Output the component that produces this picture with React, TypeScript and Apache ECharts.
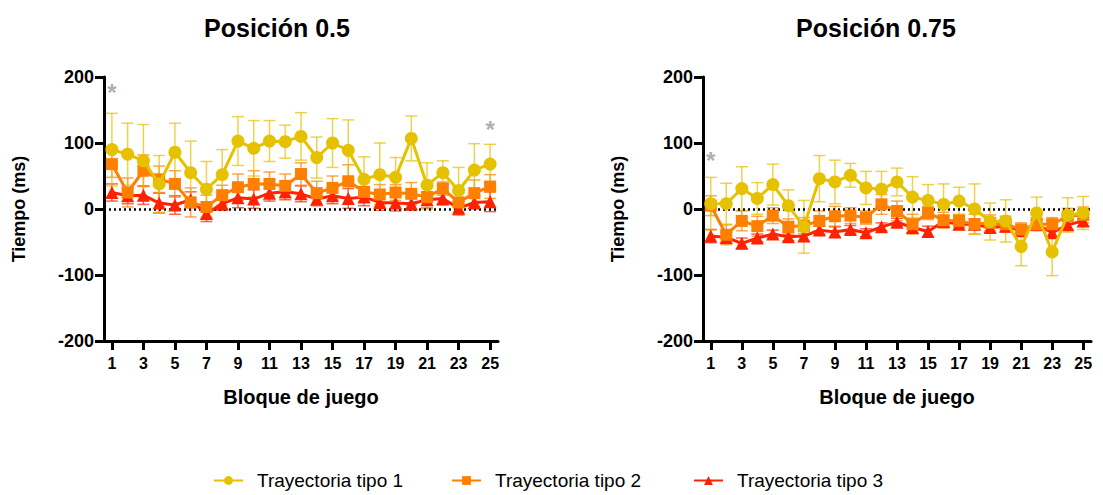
import React, { useEffect, useRef } from "react";
import * as echarts from "echarts";

const blocks = ["1","2","3","4","5","6","7","8","9","10","11","12","13","14","15","16","17","18","19","20","21","22","23","24","25"];
const seriesNames = ["Trayectoria tipo 1", "Trayectoria tipo 2", "Trayectoria tipo 3"];
const chartTitles = ["Posición 0.5", "Posición 0.75"];
const yTicks = { min: -200, max: 200, interval: 100 };

// Posición 0.5
const left1 = [90, 83, 73, 38, 86, 55, 30, 52, 103, 92, 103, 102, 110, 78, 100, 89, 45, 52, 48, 107, 36, 55, 28, 59, 68];
const left1Err = [55, 47, 55, 43, 44, 48, 42, 38, 37, 42, 31, 25, 36, 31, 37, 46, 34, 48, 30, 34, 34, 18, 35, 40, 30];
const left2 = [68, 25, 58, 45, 38, 10, 3, 21, 33, 38, 38, 35, 53, 24, 32, 42, 26, 22, 25, 23, 18, 31, 10, 24, 34];
const left2Err = [20, 22, 24, 20, 20, 22, 18, 15, 20, 20, 18, 18, 17, 18, 18, 25, 15, 15, 12, 17, 18, 10, 15, 20, 18];
const left3 = [25, 20, 21, 9, 6, 14, -7, 8, 17, 15, 24, 26, 23, 15, 20, 16, 18, 10, 9, 8, 14, 16, 1, 10, 11];
const left3Err = [13, 12, 14, 15, 14, 12, 12, 10, 15, 14, 12, 12, 12, 10, 12, 15, 13, 12, 12, 10, 12, 10, 10, 10, 15];
const leftStars = [[0, 177], [24, 121]];

// Posición 0.75
const right1 = [8, 8, 31, 16, 37, 5, -27, 46, 41, 51, 32, 30, 41, 18, 13, 7, 12, 0, -19, -18, -57, -6, -65, -9, -6];
const right1Err = [40, 31, 33, 24, 31, 24, 40, 35, 33, 18, 25, 27, 21, 31, 24, 31, 21, 38, 28, 32, 29, 24, 36, 26, 25];
const right2 = [5, -39, -18, -26, -10, -27, -25, -18, -11, -10, -13, 7, -3, -23, -6, -17, -18, -23, -21, -23, -31, -23, -23, -11, -9];
const right2Err = [15, 15, 15, 15, 12, 12, 12, 15, 15, 12, 10, 15, 15, 15, 10, 12, 10, 15, 12, 12, 10, 10, 10, 12, 12];
const right3 = [-41, -43, -52, -44, -38, -42, -41, -32, -35, -31, -36, -27, -20, -28, -34, -19, -23, -23, -28, -26, -33, -23, -36, -24, -18];
const right3Err = [10, 8, 8, 6, 6, 6, 8, 6, 8, 6, 6, 6, 6, 8, 8, 8, 8, 8, 8, 8, 6, 6, 6, 8, 8];
const rightStars = [[0, 73]];

const colors = ["#E5C100", "#FF7F00", "#FF2200"];
const symbols = ["circle", "rect", "triangle"];
const symbolSizes = [13, 12, 13];
const FONT = "'Liberation Sans', Arial, Helvetica, sans-serif";

function errorSeries(idx: number, name: string, vals: number[], errs: number[], color: string) {
  return {
    type: "custom",
    name: name + " err",
    xAxisIndex: idx,
    yAxisIndex: idx,
    z: 1,
    silent: true,
    data: vals.map((v, i) => [i, v, errs[i]]),
    encode: { x: 0, y: 1 },
    renderItem: (params: any, api: any) => {
      const x = api.value(0);
      const m = api.value(1);
      const e = api.value(2);
      const top = api.coord([x, m + e]);
      const bot = api.coord([x, m - e]);
      const hw = 6;
      const style = { stroke: color, lineWidth: 1.5, opacity: 0.7 };
      return {
        type: "group",
        children: [
          { type: "line", shape: { x1: top[0], y1: top[1], x2: bot[0], y2: bot[1] }, style },
          { type: "line", shape: { x1: top[0] - hw, y1: top[1], x2: top[0] + hw, y2: top[1] }, style },
          { type: "line", shape: { x1: bot[0] - hw, y1: bot[1], x2: bot[0] + hw, y2: bot[1] }, style },
        ],
      };
    },
  };
}

function lineSeries(idx: number, k: number, vals: number[], withZero: boolean) {
  const s: any = {
    type: "line",
    name: seriesNames[k],
    xAxisIndex: idx,
    yAxisIndex: idx,
    data: vals,
    symbol: symbols[k],
    symbolSize: symbolSizes[k],
    showSymbol: true,
    showAllSymbol: true,
    z: 5 + (2 - k),
    itemStyle: { color: colors[k] },
    lineStyle: { color: colors[k], width: 3 },
  };
  if (withZero) {
    s.markLine = {
      silent: true,
      symbol: "none",
      label: { show: false },
      lineStyle: { color: "#000", type: [2, 3], width: 2.5 },
      data: [{ yAxis: 0 }],
    };
  }
  return s;
}

function starSeries(idx: number, pts: number[][]) {
  return {
    type: "scatter",
    name: "stars" + idx,
    xAxisIndex: idx,
    yAxisIndex: idx,
    silent: true,
    symbolSize: 1,
    itemStyle: { color: "rgba(0,0,0,0)" },
    data: pts,
    label: {
      show: true,
      position: "inside",
      formatter: "*",
      color: "#999",
      fontSize: 24,
      fontWeight: "bold",
      fontFamily: FONT,
    },
  };
}

const gridLefts = [96, 695];
const legendLefts = [200, 438, 680];

export default function App() {
  const ref = useRef<HTMLDivElement>(null);
  useEffect(() => {
    if (!ref.current) return;
    const chart = echarts.init(ref.current, null, { renderer: "svg" });
    const xAxes = [0, 1].map((i) => ({
      type: "category",
      gridIndex: i,
      data: blocks,
      boundaryGap: true,
      name: "Bloque de juego",
      nameLocation: "middle",
      nameGap: 46,
      nameTextStyle: { fontSize: 20, fontWeight: "bold", color: "#000", fontFamily: FONT },
      axisLine: { onZero: false, lineStyle: { color: "#000", width: 3 } },
      axisTick: { show: true, alignWithLabel: true, interval: 1, length: 9, lineStyle: { color: "#000", width: 3 } },
      axisLabel: { interval: 1, margin: 14, fontSize: 16, fontWeight: "bold", color: "#000", fontFamily: FONT },
      splitLine: { show: false },
    }));
    const yAxes = [0, 1].map((i) => ({
      type: "value",
      gridIndex: i,
      min: yTicks.min,
      max: yTicks.max,
      interval: yTicks.interval,
      name: "Tiempo (ms)",
      nameLocation: "middle",
      nameGap: 76,
      nameRotate: 90,
      nameTextStyle: { fontSize: 18, fontWeight: "bold", color: "#000", fontFamily: FONT },
      axisLine: { show: true, lineStyle: { color: "#000", width: 3 } },
      axisTick: { show: true, length: 9, lineStyle: { color: "#000", width: 3 } },
      axisLabel: { margin: 10, fontSize: 18, fontWeight: "bold", color: "#000", fontFamily: FONT },
      splitLine: { show: false },
    }));
    const series: any[] = [
      errorSeries(0, seriesNames[2], left3, left3Err, colors[2]),
      errorSeries(0, seriesNames[1], left2, left2Err, colors[1]),
      errorSeries(0, seriesNames[0], left1, left1Err, colors[0]),
      lineSeries(0, 2, left3, true),
      lineSeries(0, 1, left2, false),
      lineSeries(0, 0, left1, false),
      starSeries(0, leftStars),
      errorSeries(1, seriesNames[2], right3, right3Err, colors[2]),
      errorSeries(1, seriesNames[1], right2, right2Err, colors[1]),
      errorSeries(1, seriesNames[0], right1, right1Err, colors[0]),
      lineSeries(1, 2, right3, true),
      lineSeries(1, 1, right2, false),
      lineSeries(1, 0, right1, false),
      starSeries(1, rightStars),
    ];
    chart.setOption({
      animation: false,
      backgroundColor: "#fff",
      title: chartTitles.map((t, i) => ({
        text: t,
        left: gridLefts[i] + 168,
        top: 2,
        textAlign: "center",
        textStyle: { fontSize: 25, fontWeight: "bold", color: "#000", fontFamily: FONT },
      })),
      legend: seriesNames.map((n, i) => ({
        data: [n],
        bottom: 0,
        left: legendLefts[i],
        itemWidth: 29,
        itemHeight: 11,
        itemGap: 10,
        textStyle: { fontSize: 19, color: "#000", fontFamily: FONT, padding: [0, 0, 0, 9] },
      })),
      grid: gridLefts.map((l) => ({ left: l, top: 69, width: 394, height: 264 })),
      xAxis: xAxes,
      yAxis: yAxes,
      series,
    });
    return () => chart.dispose();
  }, []);
  return <div ref={ref} style={{ width: 1087, height: 487 }} />;
}
